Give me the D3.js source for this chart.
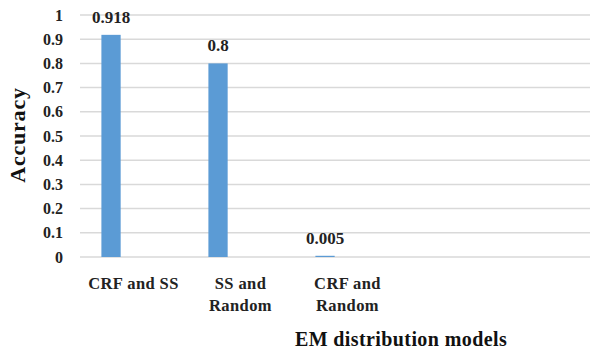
<!DOCTYPE html>
<html>
<head>
<meta charset="utf-8">
<script src="https://cdn.jsdelivr.net/npm/d3@7"></script>
<style>
  body { margin: 0; background: #fff; }
  svg { display: block; }
  svg text { font-family: "Liberation Serif", "Times New Roman", serif; }
</style>
</head>
<body>
<div id="chart"></div>
<script>
const categories = ["CRF and SS", "SS and Random", "CRF and Random"];
const labelLines = [["CRF and SS"], ["SS and", "Random"], ["CRF and", "Random"]];
const accuracy = [0.918, 0.8, 0.005];
const valueLabels = ["0.918", "0.8", "0.005"];
const yTicks = [0, 0.1, 0.2, 0.3, 0.4, 0.5, 0.6, 0.7, 0.8, 0.9, 1];

const width = 590, height = 352;
const margin = { top: 15, left: 80, bottom: 95 };
const bandW = 107;

const svg = d3.select("#chart").append("svg")
  .attr("width", width)
  .attr("height", height);

const x = d3.scaleBand()
  .domain(categories)
  .range([margin.left, margin.left + bandW * categories.length]);

const y = d3.scaleLinear()
  .domain([0, 1])
  .range([height - margin.bottom, margin.top]);

// gridlines (run off the right edge like the source)
svg.append("g")
  .selectAll("line")
  .data(yTicks)
  .join("line")
  .attr("x1", margin.left)
  .attr("x2", width)
  .attr("y1", d => y(d))
  .attr("y2", d => y(d))
  .attr("stroke", "#d9d9d9")
  .attr("stroke-width", 1.5);

// y tick labels
const yAxis = svg.append("g")
  .attr("transform", `translate(${margin.left},0)`)
  .call(d3.axisLeft(y).tickValues(yTicks).tickFormat(d3.format("~g")).tickSize(0).tickPadding(17));
yAxis.select(".domain").remove();
yAxis.selectAll("text")
  .attr("font-weight", "bold")
  .attr("font-size", 16)
  .attr("fill", "#222");

// bars
const barOff = x.bandwidth() * 0.2;
const barW = x.bandwidth() * 0.18;
svg.append("g")
  .selectAll("rect")
  .data(accuracy)
  .join("rect")
  .attr("x", (d, i) => x(categories[i]) + barOff)
  .attr("y", d => y(d))
  .attr("width", barW)
  .attr("height", d => y(0) - y(d))
  .attr("fill", "#5b9bd5");

// value labels
svg.append("g")
  .selectAll("text")
  .data(accuracy)
  .join("text")
  .attr("x", (d, i) => x(categories[i]) + barOff + barW / 2)
  .attr("y", d => y(d) - 12)
  .attr("text-anchor", "middle")
  .attr("font-weight", "bold")
  .attr("font-size", 17)
  .attr("fill", "#222")
  .text((d, i) => valueLabels[i]);

// category labels
const xl = svg.append("g")
  .selectAll("text")
  .data(categories)
  .join("text")
  .attr("x", d => x(d) + x.bandwidth() / 2)
  .attr("y", 289)
  .attr("text-anchor", "middle")
  .attr("font-weight", "bold")
  .attr("font-size", 16.5)
  .attr("letter-spacing", 0.4)
  .attr("fill", "#222");
xl.selectAll("tspan")
  .data((d, i) => labelLines[i])
  .join("tspan")
  .attr("x", function () { return this.parentNode.getAttribute("x"); })
  .attr("dy", (d, i) => i === 0 ? 0 : 22)
  .text(d => d);

// axis titles
svg.append("text")
  .attr("transform", `translate(25,135) rotate(-90)`)
  .attr("text-anchor", "middle")
  .attr("font-weight", "bold")
  .attr("font-size", 22)
  .attr("letter-spacing", 0.8)
  .attr("fill", "#111")
  .text("Accuracy");

svg.append("text")
  .attr("x", 401)
  .attr("y", 346)
  .attr("text-anchor", "middle")
  .attr("font-weight", "bold")
  .attr("font-size", 20)
  .attr("letter-spacing", 0.4)
  .attr("fill", "#111")
  .text("EM distribution models");
</script>
</body>
</html>
